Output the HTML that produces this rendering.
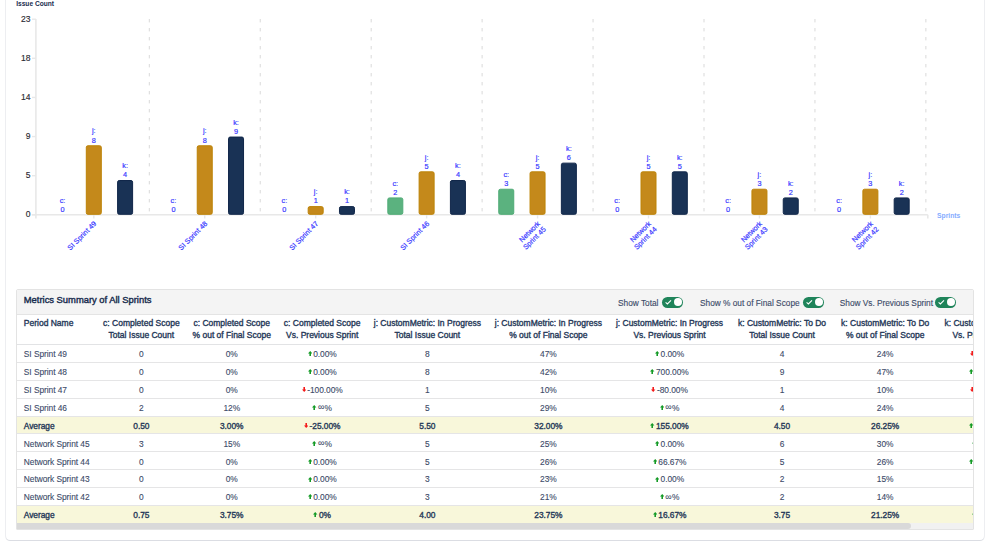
<!DOCTYPE html>
<html><head><meta charset="utf-8"><style>
*{box-sizing:border-box;margin:0;padding:0}
html,body{width:999px;height:550px;overflow:hidden;background:#fff;font-family:"Liberation Sans",sans-serif}
#outer{position:absolute;left:6px;top:-20px;width:978px;height:560px;border-radius:4px;box-shadow:0 0 0 1px rgba(9,30,66,0.075),0 1px 0 0 rgba(9,30,66,0.08)}
#chart{position:absolute;left:0;top:0}
#panel{position:absolute;left:16px;top:289px;width:958px;height:241px;border:1px solid #e3e3e3;border-radius:2px 2px 1px 1px;overflow:hidden;background:#fff}
#ttl{position:absolute;left:0;top:0;width:100%;height:25px;background:#f4f4f4;border-bottom:1px solid #e4e4e4}
#ttl .t{position:absolute;left:6.8px;top:5px;font-size:9.4px;-webkit-text-stroke:0.4px #172b4d;color:#172b4d;line-height:10px;white-space:nowrap}
.tg{position:absolute;top:8.3px;font-size:8.3px;color:#3b4a68;-webkit-text-stroke:0.12px #3b4a68;line-height:10px;white-space:nowrap}
.sw{position:absolute;top:6.9px;width:21.3px;height:11.1px;border-radius:6px;background:#1f845a}
.sw i{position:absolute;left:12.15px;top:1.3px;width:7.8px;height:7.8px;border-radius:50%;background:#fff}
.sw svg{position:absolute;left:0;top:0}
#tw{position:absolute;left:0;top:25px;width:1023.6px}
table{border-collapse:collapse;table-layout:fixed;width:1023.6px}
th{font-size:8.5px;font-weight:normal;-webkit-text-stroke:0.35px #253858;color:#253858;line-height:11.8px;height:29.5px;vertical-align:top;padding:3.2px 0 0 0;text-align:center;white-space:nowrap;border-bottom:1px solid #e2e3e5}
th:first-child,td:first-child{text-align:left;padding-left:6.8px}
td{font-size:8.4px;letter-spacing:-0.05px;color:#3b4a68;-webkit-text-stroke:0.1px #3b4a68;height:17.9px;line-height:10px;padding:1.5px 0 0 0;text-align:center;white-space:nowrap;border-bottom:1px solid #e5e5e6;vertical-align:middle}
tr.avg td{background:#f8f7da;color:#253858;-webkit-text-stroke:0.35px #253858}
.ar{display:inline-block;vertical-align:0.9px;margin-right:1.3px}
.inf{font-size:9.3px;position:relative;top:-0.8px;line-height:0}
#sb{position:absolute;left:0;bottom:0;width:100%;height:6.5px;background:#f1f1f1}
#sb i{position:absolute;left:0;top:0;width:894px;height:6.5px;border-radius:0 4px 4px 0;background:#d9d9d9}
</style></head><body>
<div id="outer"></div>
<svg id="chart" width="999" height="290" viewBox="0 0 999 290" font-family="Liberation Sans, sans-serif">
<text x="16.2" y="5.9" font-size="6.6" font-weight="bold" fill="#172b4d">Issue Count</text>
<line x1="149.30" y1="19" x2="149.30" y2="214" stroke="#d9d9d9" stroke-width="1" stroke-dasharray="3.4 5.6"/>
<line x1="260.24" y1="19" x2="260.24" y2="214" stroke="#d9d9d9" stroke-width="1" stroke-dasharray="3.4 5.6"/>
<line x1="371.18" y1="19" x2="371.18" y2="214" stroke="#d9d9d9" stroke-width="1" stroke-dasharray="3.4 5.6"/>
<line x1="482.12" y1="19" x2="482.12" y2="214" stroke="#d9d9d9" stroke-width="1" stroke-dasharray="3.4 5.6"/>
<line x1="593.06" y1="19" x2="593.06" y2="214" stroke="#d9d9d9" stroke-width="1" stroke-dasharray="3.4 5.6"/>
<line x1="704.00" y1="19" x2="704.00" y2="214" stroke="#d9d9d9" stroke-width="1" stroke-dasharray="3.4 5.6"/>
<line x1="814.94" y1="19" x2="814.94" y2="214" stroke="#d9d9d9" stroke-width="1" stroke-dasharray="3.4 5.6"/>
<line x1="925.88" y1="19" x2="925.88" y2="214" stroke="#d9d9d9" stroke-width="1" stroke-dasharray="3.4 5.6"/>
<line x1="35.9" y1="19" x2="35.9" y2="218.6" stroke="#e8e8e8" stroke-width="1.6"/>
<line x1="31.7" y1="214.8" x2="927.8" y2="214.8" stroke="#e8e8e8" stroke-width="1.6"/>
<line x1="927.8" y1="214.8" x2="927.8" y2="218.6" stroke="#e8e8e8" stroke-width="1.6"/>
<line x1="32" y1="214.80" x2="35.9" y2="214.80" stroke="#e8e8e8" stroke-width="1.4"/>
<text x="30.4" y="217.20" font-size="8.5" fill="#2b2b33" stroke="#2b2b33" stroke-width="0.15" text-anchor="end">0</text>
<line x1="32" y1="175.68" x2="35.9" y2="175.68" stroke="#e8e8e8" stroke-width="1.4"/>
<text x="30.4" y="178.08" font-size="8.5" fill="#2b2b33" stroke="#2b2b33" stroke-width="0.15" text-anchor="end">5</text>
<line x1="32" y1="136.56" x2="35.9" y2="136.56" stroke="#e8e8e8" stroke-width="1.4"/>
<text x="30.4" y="138.96" font-size="8.5" fill="#2b2b33" stroke="#2b2b33" stroke-width="0.15" text-anchor="end">9</text>
<line x1="32" y1="97.44" x2="35.9" y2="97.44" stroke="#e8e8e8" stroke-width="1.4"/>
<text x="30.4" y="99.84" font-size="8.5" fill="#2b2b33" stroke="#2b2b33" stroke-width="0.15" text-anchor="end">14</text>
<line x1="32" y1="58.32" x2="35.9" y2="58.32" stroke="#e8e8e8" stroke-width="1.4"/>
<text x="30.4" y="60.72" font-size="8.5" fill="#2b2b33" stroke="#2b2b33" stroke-width="0.15" text-anchor="end">18</text>
<line x1="32" y1="19.20" x2="35.9" y2="19.20" stroke="#e8e8e8" stroke-width="1.4"/>
<text x="30.4" y="21.60" font-size="8.5" fill="#2b2b33" stroke="#2b2b33" stroke-width="0.15" text-anchor="end">23</text>
<line x1="93.80" y1="214.8" x2="93.80" y2="218.5" stroke="#e8e8e8" stroke-width="1.4"/>
<text x="62.50" y="203.00" font-size="7.3" fill="#3a3aff" stroke="#3a3aff" stroke-width="0.2" text-anchor="middle">c:</text>
<text x="62.50" y="212.10" font-size="7.3" fill="#3a3aff" stroke="#3a3aff" stroke-width="0.2" text-anchor="middle">0</text>
<rect x="86.30" y="145.75" width="15" height="68.55" rx="1.6" fill="#c4891b" stroke="#bd8306" stroke-width="1"/>
<text x="93.80" y="133.45" font-size="7.3" fill="#3a3aff" stroke="#3a3aff" stroke-width="0.2" text-anchor="middle">j:</text>
<text x="93.80" y="142.55" font-size="7.3" fill="#3a3aff" stroke="#3a3aff" stroke-width="0.2" text-anchor="middle">8</text>
<rect x="117.60" y="180.53" width="15" height="33.77" rx="1.6" fill="#193255" stroke="#102649" stroke-width="1"/>
<text x="125.10" y="168.23" font-size="7.3" fill="#3a3aff" stroke="#3a3aff" stroke-width="0.2" text-anchor="middle">k:</text>
<text x="125.10" y="177.33" font-size="7.3" fill="#3a3aff" stroke="#3a3aff" stroke-width="0.2" text-anchor="middle">4</text>
<text transform="translate(96.90,224.1) rotate(-45)" font-size="7.2" fill="#3a3aff" stroke="#3a3aff" stroke-width="0.2" text-anchor="end"><tspan x="0" y="0">SI Sprint 49</tspan></text>
<line x1="204.74" y1="214.8" x2="204.74" y2="218.5" stroke="#e8e8e8" stroke-width="1.4"/>
<text x="173.44" y="203.00" font-size="7.3" fill="#3a3aff" stroke="#3a3aff" stroke-width="0.2" text-anchor="middle">c:</text>
<text x="173.44" y="212.10" font-size="7.3" fill="#3a3aff" stroke="#3a3aff" stroke-width="0.2" text-anchor="middle">0</text>
<rect x="197.24" y="145.75" width="15" height="68.55" rx="1.6" fill="#c4891b" stroke="#bd8306" stroke-width="1"/>
<text x="204.74" y="133.45" font-size="7.3" fill="#3a3aff" stroke="#3a3aff" stroke-width="0.2" text-anchor="middle">j:</text>
<text x="204.74" y="142.55" font-size="7.3" fill="#3a3aff" stroke="#3a3aff" stroke-width="0.2" text-anchor="middle">8</text>
<rect x="228.54" y="137.06" width="15" height="77.24" rx="1.6" fill="#193255" stroke="#102649" stroke-width="1"/>
<text x="236.04" y="124.76" font-size="7.3" fill="#3a3aff" stroke="#3a3aff" stroke-width="0.2" text-anchor="middle">k:</text>
<text x="236.04" y="133.86" font-size="7.3" fill="#3a3aff" stroke="#3a3aff" stroke-width="0.2" text-anchor="middle">9</text>
<text transform="translate(207.84,224.1) rotate(-45)" font-size="7.2" fill="#3a3aff" stroke="#3a3aff" stroke-width="0.2" text-anchor="end"><tspan x="0" y="0">SI Sprint 48</tspan></text>
<line x1="315.68" y1="214.8" x2="315.68" y2="218.5" stroke="#e8e8e8" stroke-width="1.4"/>
<text x="284.38" y="203.00" font-size="7.3" fill="#3a3aff" stroke="#3a3aff" stroke-width="0.2" text-anchor="middle">c:</text>
<text x="284.38" y="212.10" font-size="7.3" fill="#3a3aff" stroke="#3a3aff" stroke-width="0.2" text-anchor="middle">0</text>
<rect x="308.18" y="206.61" width="15" height="7.69" rx="1.6" fill="#c4891b" stroke="#bd8306" stroke-width="1"/>
<text x="315.68" y="194.31" font-size="7.3" fill="#3a3aff" stroke="#3a3aff" stroke-width="0.2" text-anchor="middle">j:</text>
<text x="315.68" y="203.41" font-size="7.3" fill="#3a3aff" stroke="#3a3aff" stroke-width="0.2" text-anchor="middle">1</text>
<rect x="339.48" y="206.61" width="15" height="7.69" rx="1.6" fill="#193255" stroke="#102649" stroke-width="1"/>
<text x="346.98" y="194.31" font-size="7.3" fill="#3a3aff" stroke="#3a3aff" stroke-width="0.2" text-anchor="middle">k:</text>
<text x="346.98" y="203.41" font-size="7.3" fill="#3a3aff" stroke="#3a3aff" stroke-width="0.2" text-anchor="middle">1</text>
<text transform="translate(318.78,224.1) rotate(-45)" font-size="7.2" fill="#3a3aff" stroke="#3a3aff" stroke-width="0.2" text-anchor="end"><tspan x="0" y="0">SI Sprint 47</tspan></text>
<line x1="426.62" y1="214.8" x2="426.62" y2="218.5" stroke="#e8e8e8" stroke-width="1.4"/>
<rect x="387.82" y="197.91" width="15" height="16.39" rx="1.6" fill="#5bb27f" stroke="#4fab76" stroke-width="1"/>
<text x="395.32" y="185.61" font-size="7.3" fill="#3a3aff" stroke="#3a3aff" stroke-width="0.2" text-anchor="middle">c:</text>
<text x="395.32" y="194.71" font-size="7.3" fill="#3a3aff" stroke="#3a3aff" stroke-width="0.2" text-anchor="middle">2</text>
<rect x="419.12" y="171.83" width="15" height="42.47" rx="1.6" fill="#c4891b" stroke="#bd8306" stroke-width="1"/>
<text x="426.62" y="159.53" font-size="7.3" fill="#3a3aff" stroke="#3a3aff" stroke-width="0.2" text-anchor="middle">j:</text>
<text x="426.62" y="168.63" font-size="7.3" fill="#3a3aff" stroke="#3a3aff" stroke-width="0.2" text-anchor="middle">5</text>
<rect x="450.42" y="180.53" width="15" height="33.77" rx="1.6" fill="#193255" stroke="#102649" stroke-width="1"/>
<text x="457.92" y="168.23" font-size="7.3" fill="#3a3aff" stroke="#3a3aff" stroke-width="0.2" text-anchor="middle">k:</text>
<text x="457.92" y="177.33" font-size="7.3" fill="#3a3aff" stroke="#3a3aff" stroke-width="0.2" text-anchor="middle">4</text>
<text transform="translate(429.72,224.1) rotate(-45)" font-size="7.2" fill="#3a3aff" stroke="#3a3aff" stroke-width="0.2" text-anchor="end"><tspan x="0" y="0">SI Sprint 46</tspan></text>
<line x1="537.56" y1="214.8" x2="537.56" y2="218.5" stroke="#e8e8e8" stroke-width="1.4"/>
<rect x="498.76" y="189.22" width="15" height="25.08" rx="1.6" fill="#5bb27f" stroke="#4fab76" stroke-width="1"/>
<text x="506.26" y="176.92" font-size="7.3" fill="#3a3aff" stroke="#3a3aff" stroke-width="0.2" text-anchor="middle">c:</text>
<text x="506.26" y="186.02" font-size="7.3" fill="#3a3aff" stroke="#3a3aff" stroke-width="0.2" text-anchor="middle">3</text>
<rect x="530.06" y="171.83" width="15" height="42.47" rx="1.6" fill="#c4891b" stroke="#bd8306" stroke-width="1"/>
<text x="537.56" y="159.53" font-size="7.3" fill="#3a3aff" stroke="#3a3aff" stroke-width="0.2" text-anchor="middle">j:</text>
<text x="537.56" y="168.63" font-size="7.3" fill="#3a3aff" stroke="#3a3aff" stroke-width="0.2" text-anchor="middle">5</text>
<rect x="561.36" y="163.14" width="15" height="51.16" rx="1.6" fill="#193255" stroke="#102649" stroke-width="1"/>
<text x="568.86" y="150.84" font-size="7.3" fill="#3a3aff" stroke="#3a3aff" stroke-width="0.2" text-anchor="middle">k:</text>
<text x="568.86" y="159.94" font-size="7.3" fill="#3a3aff" stroke="#3a3aff" stroke-width="0.2" text-anchor="middle">6</text>
<text transform="translate(540.66,224.1) rotate(-45)" font-size="7.2" fill="#3a3aff" stroke="#3a3aff" stroke-width="0.2" text-anchor="end"><tspan x="0" y="0">Network</tspan><tspan x="0" y="8">Sprint 45</tspan></text>
<line x1="648.50" y1="214.8" x2="648.50" y2="218.5" stroke="#e8e8e8" stroke-width="1.4"/>
<text x="617.20" y="203.00" font-size="7.3" fill="#3a3aff" stroke="#3a3aff" stroke-width="0.2" text-anchor="middle">c:</text>
<text x="617.20" y="212.10" font-size="7.3" fill="#3a3aff" stroke="#3a3aff" stroke-width="0.2" text-anchor="middle">0</text>
<rect x="641.00" y="171.83" width="15" height="42.47" rx="1.6" fill="#c4891b" stroke="#bd8306" stroke-width="1"/>
<text x="648.50" y="159.53" font-size="7.3" fill="#3a3aff" stroke="#3a3aff" stroke-width="0.2" text-anchor="middle">j:</text>
<text x="648.50" y="168.63" font-size="7.3" fill="#3a3aff" stroke="#3a3aff" stroke-width="0.2" text-anchor="middle">5</text>
<rect x="672.30" y="171.83" width="15" height="42.47" rx="1.6" fill="#193255" stroke="#102649" stroke-width="1"/>
<text x="679.80" y="159.53" font-size="7.3" fill="#3a3aff" stroke="#3a3aff" stroke-width="0.2" text-anchor="middle">k:</text>
<text x="679.80" y="168.63" font-size="7.3" fill="#3a3aff" stroke="#3a3aff" stroke-width="0.2" text-anchor="middle">5</text>
<text transform="translate(651.60,224.1) rotate(-45)" font-size="7.2" fill="#3a3aff" stroke="#3a3aff" stroke-width="0.2" text-anchor="end"><tspan x="0" y="0">Network</tspan><tspan x="0" y="8">Sprint 44</tspan></text>
<line x1="759.44" y1="214.8" x2="759.44" y2="218.5" stroke="#e8e8e8" stroke-width="1.4"/>
<text x="728.14" y="203.00" font-size="7.3" fill="#3a3aff" stroke="#3a3aff" stroke-width="0.2" text-anchor="middle">c:</text>
<text x="728.14" y="212.10" font-size="7.3" fill="#3a3aff" stroke="#3a3aff" stroke-width="0.2" text-anchor="middle">0</text>
<rect x="751.94" y="189.22" width="15" height="25.08" rx="1.6" fill="#c4891b" stroke="#bd8306" stroke-width="1"/>
<text x="759.44" y="176.92" font-size="7.3" fill="#3a3aff" stroke="#3a3aff" stroke-width="0.2" text-anchor="middle">j:</text>
<text x="759.44" y="186.02" font-size="7.3" fill="#3a3aff" stroke="#3a3aff" stroke-width="0.2" text-anchor="middle">3</text>
<rect x="783.24" y="197.91" width="15" height="16.39" rx="1.6" fill="#193255" stroke="#102649" stroke-width="1"/>
<text x="790.74" y="185.61" font-size="7.3" fill="#3a3aff" stroke="#3a3aff" stroke-width="0.2" text-anchor="middle">k:</text>
<text x="790.74" y="194.71" font-size="7.3" fill="#3a3aff" stroke="#3a3aff" stroke-width="0.2" text-anchor="middle">2</text>
<text transform="translate(762.54,224.1) rotate(-45)" font-size="7.2" fill="#3a3aff" stroke="#3a3aff" stroke-width="0.2" text-anchor="end"><tspan x="0" y="0">Network</tspan><tspan x="0" y="8">Sprint 43</tspan></text>
<line x1="870.38" y1="214.8" x2="870.38" y2="218.5" stroke="#e8e8e8" stroke-width="1.4"/>
<text x="839.08" y="203.00" font-size="7.3" fill="#3a3aff" stroke="#3a3aff" stroke-width="0.2" text-anchor="middle">c:</text>
<text x="839.08" y="212.10" font-size="7.3" fill="#3a3aff" stroke="#3a3aff" stroke-width="0.2" text-anchor="middle">0</text>
<rect x="862.88" y="189.22" width="15" height="25.08" rx="1.6" fill="#c4891b" stroke="#bd8306" stroke-width="1"/>
<text x="870.38" y="176.92" font-size="7.3" fill="#3a3aff" stroke="#3a3aff" stroke-width="0.2" text-anchor="middle">j:</text>
<text x="870.38" y="186.02" font-size="7.3" fill="#3a3aff" stroke="#3a3aff" stroke-width="0.2" text-anchor="middle">3</text>
<rect x="894.18" y="197.91" width="15" height="16.39" rx="1.6" fill="#193255" stroke="#102649" stroke-width="1"/>
<text x="901.68" y="185.61" font-size="7.3" fill="#3a3aff" stroke="#3a3aff" stroke-width="0.2" text-anchor="middle">k:</text>
<text x="901.68" y="194.71" font-size="7.3" fill="#3a3aff" stroke="#3a3aff" stroke-width="0.2" text-anchor="middle">2</text>
<text transform="translate(873.48,224.1) rotate(-45)" font-size="7.2" fill="#3a3aff" stroke="#3a3aff" stroke-width="0.2" text-anchor="end"><tspan x="0" y="0">Network</tspan><tspan x="0" y="8">Sprint 42</tspan></text>
<text x="937" y="217.9" font-size="6.75" font-weight="bold" fill="#86acff">Sprints</text>
</svg>
<div id="panel">
<div id="ttl"><span class="t">Metrics Summary of All Sprints</span>
<span class="tg" style="left:601px">Show Total</span><span class="sw" style="left:644.75px"><svg width="12" height="11" viewBox="0 0 12 11"><path d="M3.6 5.4 L5.4 6.9 L9 3.4" stroke="#fff" stroke-width="1.1" fill="none"/></svg><i></i></span>
<span class="tg" style="left:683px">Show % out of Final Scope</span><span class="sw" style="left:785.6px"><svg width="12" height="11" viewBox="0 0 12 11"><path d="M3.6 5.4 L5.4 6.9 L9 3.4" stroke="#fff" stroke-width="1.1" fill="none"/></svg><i></i></span>
<span class="tg" style="left:822.8px;letter-spacing:-0.02px">Show Vs. Previous Sprint</span><span class="sw" style="left:918.2px"><svg width="12" height="11" viewBox="0 0 12 11"><path d="M3.6 5.4 L5.4 6.9 L9 3.4" stroke="#fff" stroke-width="1.1" fill="none"/></svg><i></i></span>
</div>
<div id="tw"><table><thead><tr><th style="width:79.7px">Period Name</th><th style="width:89.3px">c: Completed Scope<br>Total Issue Count</th><th style="width:91.5px">c: Completed Scope<br>% out of Final Scope</th><th style="width:89.3px">c: Completed Scope<br>Vs. Previous Sprint</th><th style="width:121.2px">j: CustomMetric: In Progress<br>Total Issue Count</th><th style="width:120.8px">j: CustomMetric: In Progress<br>% out of Final Scope</th><th style="width:121.5px">j: CustomMetric: In Progress<br>Vs. Previous Sprint</th><th style="width:103.5px">k: CustomMetric: To Do<br>Total Issue Count</th><th style="width:102.8px">k: CustomMetric: To Do<br>% out of Final Scope</th><th style="width:104px">k: CustomMetric: To Do<br>Vs. Previous Sprint</th></tr></thead><tbody>
<tr><td>SI Sprint 49</td><td>0</td><td>0%</td><td><svg class="ar" width="4.4" height="5" viewBox="0 0 4.4 5"><path d="M2.2 0 L4.4 2.5 L3 2.5 L3 5 L1.4 5 L1.4 2.5 L0 2.5 Z" fill="#139a25"/></svg>0.00%</td><td>8</td><td>47%</td><td><svg class="ar" width="4.4" height="5" viewBox="0 0 4.4 5"><path d="M2.2 0 L4.4 2.5 L3 2.5 L3 5 L1.4 5 L1.4 2.5 L0 2.5 Z" fill="#139a25"/></svg>0.00%</td><td>4</td><td>24%</td><td><svg class="ar" width="4.4" height="5" viewBox="0 0 4.4 5"><path d="M2.2 5 L4.4 2.5 L3 2.5 L3 0 L1.4 0 L1.4 2.5 L0 2.5 Z" fill="#f41a1a"/></svg>-55.56%</td></tr>
<tr><td>SI Sprint 48</td><td>0</td><td>0%</td><td><svg class="ar" width="4.4" height="5" viewBox="0 0 4.4 5"><path d="M2.2 0 L4.4 2.5 L3 2.5 L3 5 L1.4 5 L1.4 2.5 L0 2.5 Z" fill="#139a25"/></svg>0.00%</td><td>8</td><td>42%</td><td><svg class="ar" width="4.4" height="5" viewBox="0 0 4.4 5"><path d="M2.2 0 L4.4 2.5 L3 2.5 L3 5 L1.4 5 L1.4 2.5 L0 2.5 Z" fill="#139a25"/></svg>700.00%</td><td>9</td><td>47%</td><td><svg class="ar" width="4.4" height="5" viewBox="0 0 4.4 5"><path d="M2.2 0 L4.4 2.5 L3 2.5 L3 5 L1.4 5 L1.4 2.5 L0 2.5 Z" fill="#139a25"/></svg>800.00%</td></tr>
<tr><td>SI Sprint 47</td><td>0</td><td>0%</td><td><svg class="ar" width="4.4" height="5" viewBox="0 0 4.4 5"><path d="M2.2 5 L4.4 2.5 L3 2.5 L3 0 L1.4 0 L1.4 2.5 L0 2.5 Z" fill="#f41a1a"/></svg>-100.00%</td><td>1</td><td>10%</td><td><svg class="ar" width="4.4" height="5" viewBox="0 0 4.4 5"><path d="M2.2 5 L4.4 2.5 L3 2.5 L3 0 L1.4 0 L1.4 2.5 L0 2.5 Z" fill="#f41a1a"/></svg>-80.00%</td><td>1</td><td>10%</td><td><svg class="ar" width="4.4" height="5" viewBox="0 0 4.4 5"><path d="M2.2 5 L4.4 2.5 L3 2.5 L3 0 L1.4 0 L1.4 2.5 L0 2.5 Z" fill="#f41a1a"/></svg>-75.00%</td></tr>
<tr><td>SI Sprint 46</td><td>2</td><td>12%</td><td><svg class="ar" width="4.4" height="5" viewBox="0 0 4.4 5"><path d="M2.2 0 L4.4 2.5 L3 2.5 L3 5 L1.4 5 L1.4 2.5 L0 2.5 Z" fill="#139a25"/></svg><span class="inf">∞</span>%</td><td>5</td><td>29%</td><td><svg class="ar" width="4.4" height="5" viewBox="0 0 4.4 5"><path d="M2.2 0 L4.4 2.5 L3 2.5 L3 5 L1.4 5 L1.4 2.5 L0 2.5 Z" fill="#139a25"/></svg><span class="inf">∞</span>%</td><td>4</td><td>24%</td><td><svg class="ar" width="4.4" height="5" viewBox="0 0 4.4 5"><path d="M2.2 0 L4.4 2.5 L3 2.5 L3 5 L1.4 5 L1.4 2.5 L0 2.5 Z" fill="#139a25"/></svg><span class="inf">∞</span>%</td></tr>
<tr class="avg"><td>Average</td><td>0.50</td><td>3.00%</td><td><svg class="ar" width="4.4" height="5" viewBox="0 0 4.4 5"><path d="M2.2 5 L4.4 2.5 L3 2.5 L3 0 L1.4 0 L1.4 2.5 L0 2.5 Z" fill="#f41a1a"/></svg>-25.00%</td><td>5.50</td><td>32.00%</td><td><svg class="ar" width="4.4" height="5" viewBox="0 0 4.4 5"><path d="M2.2 0 L4.4 2.5 L3 2.5 L3 5 L1.4 5 L1.4 2.5 L0 2.5 Z" fill="#139a25"/></svg>155.00%</td><td>4.50</td><td>26.25%</td><td><svg class="ar" width="4.4" height="5" viewBox="0 0 4.4 5"><path d="M2.2 0 L4.4 2.5 L3 2.5 L3 5 L1.4 5 L1.4 2.5 L0 2.5 Z" fill="#139a25"/></svg>167.36%</td></tr>
<tr><td>Network Sprint 45</td><td>3</td><td>15%</td><td><svg class="ar" width="4.4" height="5" viewBox="0 0 4.4 5"><path d="M2.2 0 L4.4 2.5 L3 2.5 L3 5 L1.4 5 L1.4 2.5 L0 2.5 Z" fill="#139a25"/></svg><span class="inf">∞</span>%</td><td>5</td><td>25%</td><td><svg class="ar" width="4.4" height="5" viewBox="0 0 4.4 5"><path d="M2.2 0 L4.4 2.5 L3 2.5 L3 5 L1.4 5 L1.4 2.5 L0 2.5 Z" fill="#139a25"/></svg>0.00%</td><td>6</td><td>30%</td><td><svg class="ar" width="4.4" height="5" viewBox="0 0 4.4 5"><path d="M2.2 0 L4.4 2.5 L3 2.5 L3 5 L1.4 5 L1.4 2.5 L0 2.5 Z" fill="#139a25"/></svg>20.00%</td></tr>
<tr><td>Network Sprint 44</td><td>0</td><td>0%</td><td><svg class="ar" width="4.4" height="5" viewBox="0 0 4.4 5"><path d="M2.2 0 L4.4 2.5 L3 2.5 L3 5 L1.4 5 L1.4 2.5 L0 2.5 Z" fill="#139a25"/></svg>0.00%</td><td>5</td><td>26%</td><td><svg class="ar" width="4.4" height="5" viewBox="0 0 4.4 5"><path d="M2.2 0 L4.4 2.5 L3 2.5 L3 5 L1.4 5 L1.4 2.5 L0 2.5 Z" fill="#139a25"/></svg>66.67%</td><td>5</td><td>26%</td><td><svg class="ar" width="4.4" height="5" viewBox="0 0 4.4 5"><path d="M2.2 0 L4.4 2.5 L3 2.5 L3 5 L1.4 5 L1.4 2.5 L0 2.5 Z" fill="#139a25"/></svg>150.00%</td></tr>
<tr><td>Network Sprint 43</td><td>0</td><td>0%</td><td><svg class="ar" width="4.4" height="5" viewBox="0 0 4.4 5"><path d="M2.2 0 L4.4 2.5 L3 2.5 L3 5 L1.4 5 L1.4 2.5 L0 2.5 Z" fill="#139a25"/></svg>0.00%</td><td>3</td><td>23%</td><td><svg class="ar" width="4.4" height="5" viewBox="0 0 4.4 5"><path d="M2.2 0 L4.4 2.5 L3 2.5 L3 5 L1.4 5 L1.4 2.5 L0 2.5 Z" fill="#139a25"/></svg>0.00%</td><td>2</td><td>15%</td><td><svg class="ar" width="4.4" height="5" viewBox="0 0 4.4 5"><path d="M2.2 0 L4.4 2.5 L3 2.5 L3 5 L1.4 5 L1.4 2.5 L0 2.5 Z" fill="#139a25"/></svg>0.00%</td></tr>
<tr><td>Network Sprint 42</td><td>0</td><td>0%</td><td><svg class="ar" width="4.4" height="5" viewBox="0 0 4.4 5"><path d="M2.2 0 L4.4 2.5 L3 2.5 L3 5 L1.4 5 L1.4 2.5 L0 2.5 Z" fill="#139a25"/></svg>0.00%</td><td>3</td><td>21%</td><td><svg class="ar" width="4.4" height="5" viewBox="0 0 4.4 5"><path d="M2.2 0 L4.4 2.5 L3 2.5 L3 5 L1.4 5 L1.4 2.5 L0 2.5 Z" fill="#139a25"/></svg><span class="inf">∞</span>%</td><td>2</td><td>14%</td><td><svg class="ar" width="4.4" height="5" viewBox="0 0 4.4 5"><path d="M2.2 0 L4.4 2.5 L3 2.5 L3 5 L1.4 5 L1.4 2.5 L0 2.5 Z" fill="#139a25"/></svg><span class="inf">∞</span>%</td></tr>
<tr class="avg"><td>Average</td><td>0.75</td><td>3.75%</td><td><svg class="ar" width="4.4" height="5" viewBox="0 0 4.4 5"><path d="M2.2 0 L4.4 2.5 L3 2.5 L3 5 L1.4 5 L1.4 2.5 L0 2.5 Z" fill="#139a25"/></svg>0%</td><td>4.00</td><td>23.75%</td><td><svg class="ar" width="4.4" height="5" viewBox="0 0 4.4 5"><path d="M2.2 0 L4.4 2.5 L3 2.5 L3 5 L1.4 5 L1.4 2.5 L0 2.5 Z" fill="#139a25"/></svg>16.67%</td><td>3.75</td><td>21.25%</td><td><svg class="ar" width="4.4" height="5" viewBox="0 0 4.4 5"><path d="M2.2 0 L4.4 2.5 L3 2.5 L3 5 L1.4 5 L1.4 2.5 L0 2.5 Z" fill="#139a25"/></svg>42.50%</td></tr>
</tbody></table></div>
<div id="sb"><i></i></div>
</div>
</body></html>
